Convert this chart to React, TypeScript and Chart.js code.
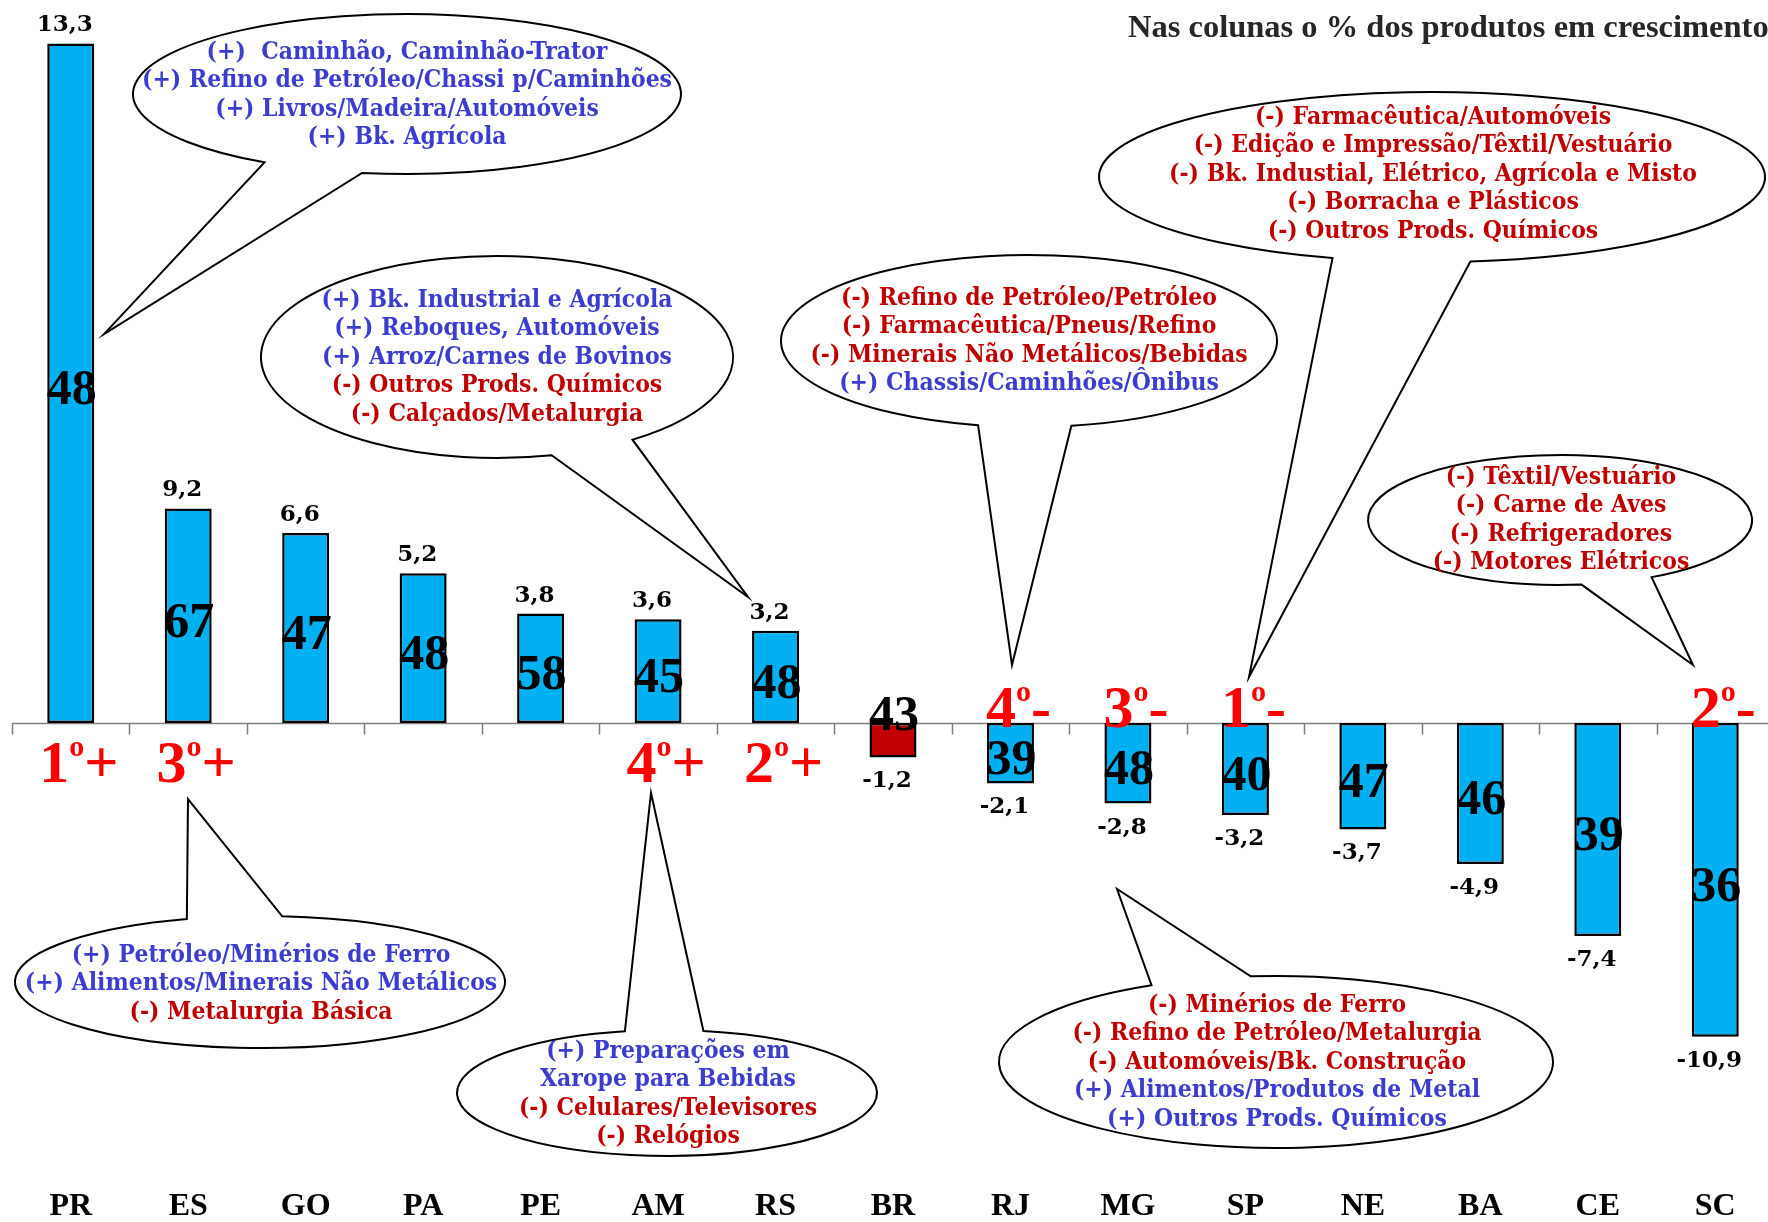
import React, { useEffect, useRef } from "react";
import { Chart, registerables } from "chart.js";

Chart.register(...registerables);

// ---------- data ----------
const categories = ["PR", "ES", "GO", "PA", "PE", "AM", "RS", "BR", "RJ", "MG", "SP", "NE", "BA", "CE", "SC"];
// column heights as drawn in the picture (PR and ES columns are drawn out of scale in the original)
const barHeights = [23.6, 7.45, 6.6, 5.2, 3.8, 3.6, 3.2, -1.2, -2.1, -2.8, -3.2, -3.7, -4.9, -7.4, -10.9];
const valueLabels = ["13,3", "9,2", "6,6", "5,2", "3,8", "3,6", "3,2", "-1,2", "-2,1", "-2,8", "-3,2", "-3,7", "-4,9", "-7,4", "-10,9"];
const growthShare = [48, 67, 47, 48, 58, 45, 48, 43, 39, 48, 40, 47, 46, 39, 36];
const rankNumbers = ["1", "3", "", "", "", "4", "2", "", "4", "3", "1", "", "", "", "2"];
const rankSigns = ["+", "+", "", "", "", "+", "+", "", "-", "-", "-", "", "", "", "-"];

const titleText = "Nas colunas o % dos produtos em crescimento";

const notesPR = [
  "(+)  Caminhão, Caminhão-Trator",
  "(+) Refino de Petróleo/Chassi p/Caminhões",
  "(+) Livros/Madeira/Automóveis",
  "(+) Bk. Agrícola",
];
const notesRS = [
  "(+) Bk. Industrial e Agrícola",
  "(+) Reboques, Automóveis",
  "(+) Arroz/Carnes de Bovinos",
  "(-) Outros Prods. Químicos",
  "(-) Calçados/Metalurgia",
];
const notesRJ = [
  "(-) Refino de Petróleo/Petróleo",
  "(-) Farmacêutica/Pneus/Refino",
  "(-) Minerais Não Metálicos/Bebidas",
  "(+) Chassis/Caminhões/Ônibus",
];
const notesSP = [
  "(-) Farmacêutica/Automóveis",
  "(-) Edição e Impressão/Têxtil/Vestuário",
  "(-) Bk. Industial, Elétrico, Agrícola e Misto",
  "(-) Borracha e Plásticos",
  "(-) Outros Prods. Químicos",
];
const notesSC = [
  "(-) Têxtil/Vestuário",
  "(-) Carne de Aves",
  "(-) Refrigeradores",
  "(-) Motores Elétricos",
];
const notesES = [
  "(+) Petróleo/Minérios de Ferro",
  "(+) Alimentos/Minerais Não Metálicos",
  "(-) Metalurgia Básica",
];
const notesAM = [
  "(+) Preparações em",
  "Xarope para Bebidas",
  "(-) Celulares/Televisores",
  "(-) Relógios",
];
const notesMG = [
  "(-) Minérios de Ferro",
  "(-) Refino de Petróleo/Metalurgia",
  "(-) Automóveis/Bk. Construção",
  "(+) Alimentos/Produtos de Metal",
  "(+) Outros Prods. Químicos",
];

// ---------- styles / layout ----------
const BAR_BLUE = "#00B0F0";
const BAR_RED = "#C00000";
const TXT_BLUE = "#3C3CCF";
const TXT_RED = "#C00000";
const RANK_RED = "#FF0000";
const SERIF = "'Liberation Serif', 'Times New Roman', serif";
const NOTE_FONT = "bold 25px 'DejaVu Serif', 'Liberation Serif', serif";
const NOTE_REF_WIDTH = 530; // width of the widest note line in the picture

type Bubble = {
  lines: string[];
  cx: number; cy: number; rx: number; ry: number;
  b1: [number, number]; b2: [number, number]; tip: [number, number];
  tx: number; ty: number;
};

const bubbles: Bubble[] = [
  { lines: notesPR, cx: 407, cy: 94, rx: 274, ry: 80, b1: [263, 163], b2: [362, 173], tip: [104, 334], tx: 407, ty: 52 },
  { lines: notesRS, cx: 497, cy: 357, rx: 236, ry: 101, b1: [552, 456], b2: [633, 440], tip: [748, 597], tx: 497, ty: 300 },
  { lines: notesRJ, cx: 1029, cy: 341, rx: 248, ry: 86, b1: [977, 427], b2: [1072, 427], tip: [1012, 665], tx: 1029, ty: 298 },
  { lines: notesSP, cx: 1432, cy: 177, rx: 333, ry: 85, b1: [1340, 252], b2: [1467, 254], tip: [1249, 677], tx: 1433, ty: 117 },
  { lines: notesSC, cx: 1560, cy: 520, rx: 192, ry: 65, b1: [1582, 586], b2: [1653, 578], tip: [1693, 665], tx: 1561, ty: 477 },
  { lines: notesES, cx: 260, cy: 982, rx: 245, ry: 66, b1: [188, 920], b2: [282, 917], tip: [188, 799], tx: 261, ty: 955 },
  { lines: notesAM, cx: 667, cy: 1093, rx: 210, ry: 63, b1: [624, 1030], b2: [704, 1030], tip: [651, 793], tx: 668, ty: 1051 },
  { lines: notesMG, cx: 1276, cy: 1062, rx: 277, ry: 86, b1: [1148, 983], b2: [1250, 974], tip: [1117, 889], tx: 1277, ty: 1005 },
];

function drawBubble(ctx: CanvasRenderingContext2D, b: Bubble, k: number) {
  const TWO_PI = Math.PI * 2;
  const a1 = Math.atan2((b.b1[1] - b.cy) / b.ry, (b.b1[0] - b.cx) / b.rx);
  const a2 = Math.atan2((b.b2[1] - b.cy) / b.ry, (b.b2[0] - b.cx) / b.rx);
  let s = a1, e = a2;
  const d = (((e - s) % TWO_PI) + TWO_PI) % TWO_PI;
  if (d > Math.PI) { s = a2; e = a1; }
  ctx.save();
  ctx.beginPath();
  ctx.ellipse(b.cx, b.cy, b.rx, b.ry, 0, e, s, false);
  ctx.lineTo(b.tip[0], b.tip[1]);
  ctx.closePath();
  ctx.fillStyle = "#FFFFFF";
  ctx.fill();
  ctx.lineWidth = 2;
  ctx.strokeStyle = "#000000";
  ctx.lineJoin = "miter";
  ctx.stroke();

  ctx.font = NOTE_FONT;
  ctx.textAlign = "center";
  ctx.textBaseline = "middle";
  const lh = 28.6;
  let color = TXT_BLUE;
  b.lines.forEach((line, i) => {
    if (line.startsWith("(-)")) color = TXT_RED;
    else if (line.startsWith("(+)")) color = TXT_BLUE;
    ctx.fillStyle = color;
    ctx.save();
    ctx.translate(b.tx, b.ty + i * lh);
    ctx.scale(k, 1);
    ctx.fillText(line, 0, 0);
    ctx.restore();
  });
  ctx.restore();
}

function drawRank(ctx: CanvasRenderingContext2D, cx: number, baseline: number, num: string, sign: string) {
  const big = `bold 60px ${SERIF}`;
  const small = `bold 30px ${SERIF}`;
  ctx.save();
  ctx.fillStyle = RANK_RED;
  ctx.textAlign = "left";
  ctx.textBaseline = "alphabetic";
  ctx.font = big;
  const wNum = ctx.measureText(num).width;
  const wSign = ctx.measureText(sign).width;
  ctx.font = small;
  const wO = ctx.measureText("o").width;
  const total = wNum + wO + wSign;
  let x = cx - total / 2;
  ctx.font = big;
  ctx.fillText(num, x, baseline);
  x += wNum;
  ctx.font = small;
  ctx.fillText("o", x, baseline - 26);
  x += wO;
  ctx.font = big;
  ctx.fillText(sign, x, baseline);
  ctx.restore();
}

const overlayPlugin = {
  id: "overlay",
  beforeDatasetsDraw(chart: any) {
    const ctx: CanvasRenderingContext2D = chart.ctx;
    const xs = chart.scales.x;
    const ys = chart.scales.y;
    const y0 = Math.round(ys.getPixelForValue(0)) + 0.5;
    const step = xs.getPixelForValue(1) - xs.getPixelForValue(0);
    ctx.save();
    ctx.strokeStyle = "#7F7F7F";
    ctx.lineWidth = 1.5;
    ctx.beginPath();
    ctx.moveTo(chart.chartArea.left, y0);
    ctx.lineTo(chart.chartArea.right, y0);
    for (let i = 0; i <= categories.length; i++) {
      const bx = Math.round(xs.getPixelForValue(0) - step / 2 + i * step) + 0.5;
      ctx.moveTo(bx, y0);
      ctx.lineTo(bx, y0 + 11);
    }
    ctx.stroke();
    ctx.restore();
  },
  afterDatasetsDraw(chart: any) {
    const ctx: CanvasRenderingContext2D = chart.ctx;
    const xs = chart.scales.x;
    const ys = chart.scales.y;
    const y0 = ys.getPixelForValue(0);
    const meta = chart.getDatasetMeta(0);

    ctx.save();
    ctx.font = NOTE_FONT;
    const k = NOTE_REF_WIDTH / ctx.measureText(notesPR[1]).width;
    ctx.restore();
    bubbles.forEach((b) => drawBubble(ctx, b, k));

    ctx.save();
    ctx.fillStyle = "#000";
    ctx.textAlign = "center";
    ctx.textBaseline = "middle";
    meta.data.forEach((bar: any, i: number) => {
      const top = Math.min(bar.y, bar.base);
      const bottom = Math.max(bar.y, bar.base);
      // value labels
      ctx.font = "bold 23px 'DejaVu Serif', 'Liberation Serif', serif";
      if (barHeights[i] >= 0) ctx.fillText(valueLabels[i], bar.x - 6, top - 18);
      else ctx.fillText(valueLabels[i], bar.x - 6, bottom + 24);
      // share of products growing
      ctx.font = `bold 50px ${SERIF}`;
      const h = bottom - top;
      const ly = h < 45 ? y0 - 6 : (top + bottom) / 2 + 8;
      ctx.fillText(String(growthShare[i]), bar.x + 1, ly);
    });
    // category labels along the bottom
    ctx.font = `bold 32px ${SERIF}`;
    categories.forEach((c, i) => {
      ctx.fillText(c, xs.getPixelForValue(i), 1207);
    });
    ctx.restore();

    meta.data.forEach((bar: any, i: number) => {
      if (!rankNumbers[i]) return;
      const base = rankSigns[i] === "+" ? y0 + 59 : y0 + 4;
      drawRank(ctx, bar.x + 8, base, rankNumbers[i], rankSigns[i]);
    });

    ctx.save();
    ctx.fillStyle = "#262626";
    ctx.font = `bold 32.5px ${SERIF}`;
    ctx.textAlign = "left";
    ctx.textBaseline = "alphabetic";
    ctx.fillText(titleText, 1128, 37);
    ctx.restore();
  },
};

export default function App() {
  const ref = useRef<HTMLCanvasElement | null>(null);
  useEffect(() => {
    document.body.style.margin = "0";
    document.body.style.background = "#fff";
    const canvas = ref.current;
    if (!canvas) return;
    const chart = new Chart(canvas, {
      type: "bar",
      data: {
        labels: categories,
        datasets: [
          {
            data: barHeights,
            backgroundColor: categories.map((c) => (c === "BR" ? BAR_RED : BAR_BLUE)),
            borderColor: "#000000",
            borderWidth: 2.5,
            borderSkipped: false,
            barPercentage: 0.4,
            categoryPercentage: 1,
          },
        ],
      },
      options: {
        animation: false,
        responsive: false,
        maintainAspectRatio: false,
        devicePixelRatio: 1,
        layout: { padding: { left: 12, right: 0, top: 32, bottom: 96 } },
        plugins: { legend: { display: false }, tooltip: { enabled: false }, title: { display: false } },
        scales: {
          x: {
            grid: { display: false, drawTicks: false },
            border: { display: false },
            ticks: { display: false },
          },
          y: { display: false, min: -14, max: 24 },
        },
      },
      plugins: [overlayPlugin],
    } as any);
    return () => chart.destroy();
  }, []);
  return (
    <div style={{ width: 1768, height: 1222, overflow: "hidden", position: "relative", background: "#fff" }}>
      <canvas ref={ref} width={1774} height={1222} style={{ width: 1774, height: 1222, display: "block" }} />
    </div>
  );
}
